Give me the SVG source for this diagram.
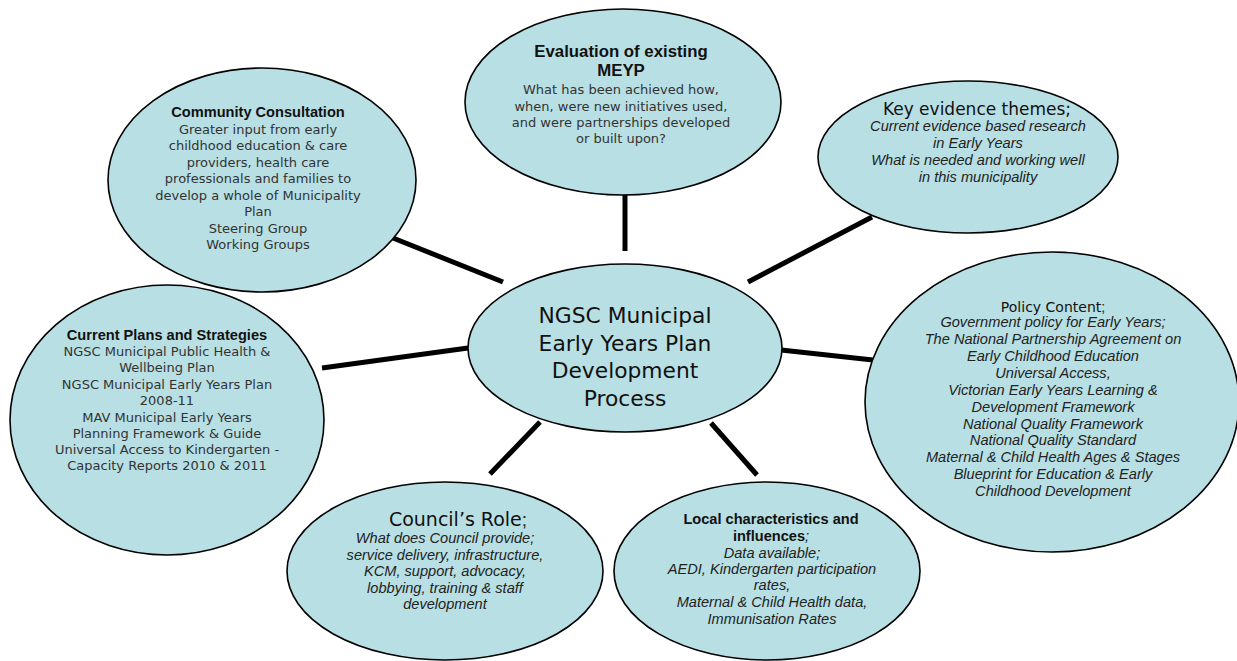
<svg xmlns="http://www.w3.org/2000/svg" width="1237" height="661" viewBox="0 0 1237 661">
<style>
.n{fill:#b8dfe3;stroke:#000;stroke-width:1.6}
.c line{stroke:#000;stroke-width:5}
text{text-anchor:middle}
.t{font-family:"Liberation Sans",Arial,sans-serif;font-weight:bold;font-size:14.6px;fill:#111}
.tl{font-family:"DejaVu Sans",sans-serif;font-size:17px;fill:#111}
.b{font-family:"DejaVu Sans",sans-serif;font-size:13px;fill:#333}
.i{font-family:"Liberation Sans",Arial,sans-serif;font-style:italic;font-size:14.6px;fill:#222}
.m{font-family:"DejaVu Sans",sans-serif;font-size:21.8px;fill:#111}
</style>
<rect width="1237" height="661" fill="#fff"/>
<g class="c" id="connectors">
<line x1="625" y1="195" x2="625" y2="251"/>
<line x1="393" y1="238" x2="503" y2="282"/>
<line x1="748" y1="282" x2="872" y2="217"/>
<line x1="322" y1="368" x2="468" y2="348"/>
<line x1="781" y1="350" x2="873" y2="360"/>
<line x1="490" y1="474" x2="540" y2="422"/>
<line x1="711" y1="423" x2="757" y2="475"/>
</g>
<g id="evaluation">
<ellipse class="n" cx="623" cy="102" rx="158" ry="93"/>
<text class="t" x="621" y="57" style="font-size:16.8px">Evaluation of existing</text>
<text class="t" x="621" y="76" style="font-size:16.8px">MEYP</text>
<text class="b" x="621" y="94">What has been achieved how,</text>
<text class="b" x="621" y="110.5">when, were new initiatives used,</text>
<text class="b" x="621" y="127">and were partnerships developed</text>
<text class="b" x="621" y="143">or built upon?</text>
</g>
<g id="community">
<ellipse class="n" cx="262" cy="180" rx="154" ry="112"/>
<text class="t" x="258" y="117">Community Consultation</text>
<text class="b" x="258" y="133.5">Greater input from early</text>
<text class="b" x="258" y="150">childhood education &amp; care</text>
<text class="b" x="258" y="166.5">providers, health care</text>
<text class="b" x="258" y="183">professionals and families to</text>
<text class="b" x="258" y="199.5">develop a whole of Municipality</text>
<text class="b" x="258" y="216">Plan</text>
<text class="b" x="258" y="232.5">Steering Group</text>
<text class="b" x="258" y="249">Working Groups</text>
</g>
<g id="evidence">
<ellipse class="n" cx="968" cy="157" rx="150" ry="76"/>
<text class="tl" x="977" y="115">Key evidence themes;</text>
<text class="i" x="978" y="131">Current evidence based research</text>
<text class="i" x="978" y="148">in Early Years</text>
<text class="i" x="978" y="165">What is needed and working well</text>
<text class="i" x="978" y="182">in this municipality</text>
</g>
<g id="plans">
<ellipse class="n" cx="167" cy="420" rx="157" ry="135"/>
<text class="t" x="167" y="340">Current Plans and Strategies</text>
<text class="b" x="167" y="356">NGSC Municipal Public Health &amp;</text>
<text class="b" x="167" y="372">Wellbeing Plan</text>
<text class="b" x="167" y="388.5">NGSC Municipal Early Years Plan</text>
<text class="b" x="167" y="405">2008-11</text>
<text class="b" x="167" y="421.5">MAV Municipal Early Years</text>
<text class="b" x="167" y="438">Planning Framework &amp; Guide</text>
<text class="b" x="167" y="454">Universal Access to Kindergarten -</text>
<text class="b" x="167" y="470">Capacity Reports 2010 &amp; 2011</text>
</g>
<g id="center">
<ellipse class="n" cx="625" cy="348" rx="157" ry="84"/>
<text class="m" x="625" y="323">NGSC Municipal</text>
<text class="m" x="625" y="351">Early Years Plan</text>
<text class="m" x="625" y="378">Development</text>
<text class="m" x="625" y="406">Process</text>
</g>
<g id="policy">
<ellipse class="n" cx="1052" cy="402" rx="187" ry="150"/>
<text class="tl" x="1053" y="312" style="font-size:14px">Policy Content<tspan class="i" style="font-style:normal;font-size:14px">;</tspan></text>
<text class="i" x="1053" y="327">Government policy for Early Years;</text>
<text class="i" x="1053" y="344">The National Partnership Agreement on</text>
<text class="i" x="1053" y="361">Early Childhood Education</text>
<text class="i" x="1053" y="378">Universal Access,</text>
<text class="i" x="1053" y="395">Victorian Early Years Learning &amp;</text>
<text class="i" x="1053" y="412">Development Framework</text>
<text class="i" x="1053" y="428.5">National Quality Framework</text>
<text class="i" x="1053" y="445">National Quality Standard</text>
<text class="i" x="1053" y="462">Maternal &amp; Child Health Ages &amp; Stages</text>
<text class="i" x="1053" y="479">Blueprint for Education &amp; Early</text>
<text class="i" x="1053" y="496">Childhood Development</text>
</g>
<g id="council">
<ellipse class="n" cx="445" cy="571" rx="158" ry="89"/>
<text class="tl" x="458" y="526" style="font-size:19px">Council’s Role<tspan class="i" style="font-style:normal;font-size:19px">;</tspan></text>
<text class="i" x="445" y="543">What does Council provide;</text>
<text class="i" x="445" y="560">service delivery, infrastructure,</text>
<text class="i" x="445" y="576">KCM, support, advocacy,</text>
<text class="i" x="445" y="593">lobbying, training &amp; staff</text>
<text class="i" x="445" y="609">development</text>
</g>
<g id="local">
<ellipse class="n" cx="767" cy="571" rx="153" ry="89"/>
<text class="t" x="771" y="524">Local characteristics and</text>
<text class="t" x="771" y="541">influences<tspan class="i" style="font-weight:normal">;</tspan></text>
<text class="i" x="772" y="558">Data available;</text>
<text class="i" x="772" y="574">AEDI, Kindergarten participation</text>
<text class="i" x="772" y="590">rates,</text>
<text class="i" x="772" y="607">Maternal &amp; Child Health data,</text>
<text class="i" x="772" y="624">Immunisation Rates</text>
</g>
</svg>
